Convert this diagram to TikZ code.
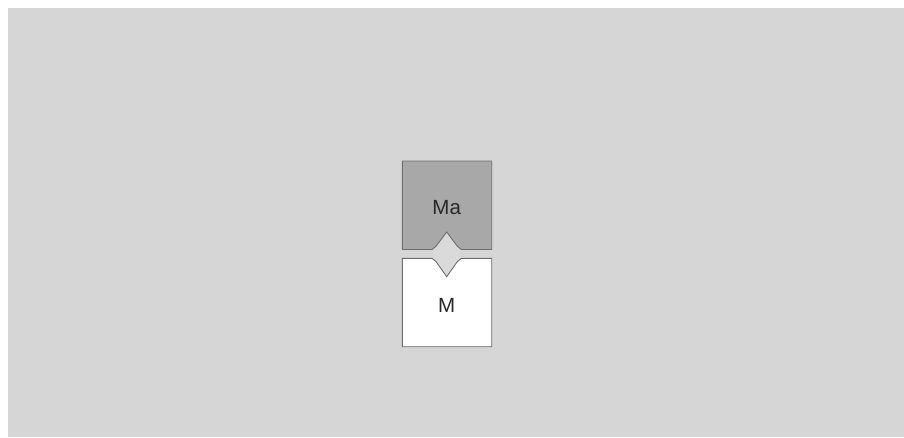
\documentclass[tikz,border=0pt]{standalone}
\usepackage{fontspec}
\setmainfont{Liberation Sans}
\definecolor{bgcol}{RGB}{214,214,214}
\definecolor{topfill}{RGB}{168,168,168}
\definecolor{edgecol}{RGB}{110,110,110}
\definecolor{keycol}{RGB}{218,218,218}
\definecolor{txtcol}{RGB}{40,40,40}
\tikzset{
  boxedge/.style={draw=edgecol, line width=0.9pt, line join=miter},
  lbl/.style={text=txtcol, font=\fontsize{20.5}{24}\selectfont, inner sep=0pt}
}
\begin{document}
\begin{tikzpicture}[x=1pt,y=-1pt]
\useasboundingbox (0,0) rectangle (904,437);
\fill[white] (0,0) rectangle (904,437);
\fill[bgcol] (8,8) rectangle (904,437);
% key diamond (gap)
\fill[keycol] (433,249.5) -- (446.7,232) -- (460.4,249.5) -- (460.4,258.3) -- (446.7,276.7) -- (433,258.3) -- cycle;
% top box with notch
\path[boxedge, fill=topfill] (402.3,161) -- (491.7,161) -- (491.7,249.5) -- (461.4,249.5) -- (457.4,246.3) -- (446.7,232) -- (436,246.3) -- (432,249.5) -- (402.3,249.5) -- cycle;
% bottom box with notch
\path[boxedge, fill=white] (402.3,258.3) -- (432,258.3) -- (436,261.5) -- (446.7,276.7) -- (457.4,261.5) -- (461.4,258.3) -- (491.7,258.3) -- (491.7,346.7) -- (402.3,346.7) -- cycle;
\node[lbl] (ma) at (446.7,208) {Ma};
\node[lbl] (m) at (446.7,305) {M};
\end{tikzpicture}
\end{document}
